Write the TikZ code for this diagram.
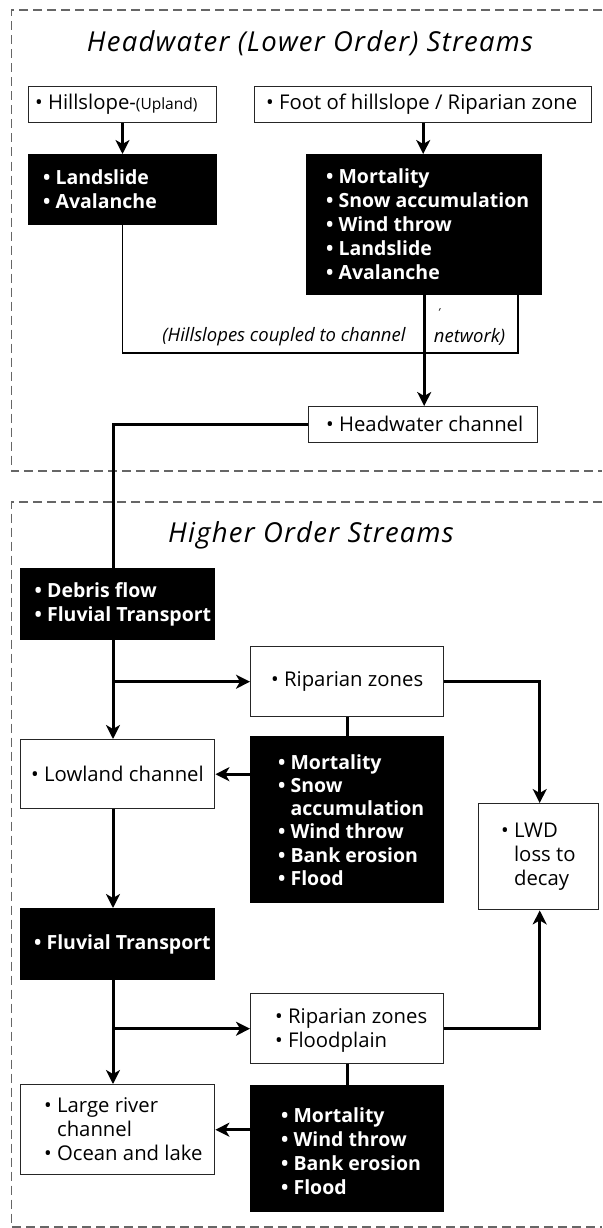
\documentclass[tikz,border=0pt]{standalone}
\usepackage{fontspec}
\setmainfont{Open Sans}
\usetikzlibrary{arrows.meta,calc}
\newcommand{\bl}{•\ }
\newcommand{\ind}{\phantom{•\ }}
\begin{document}
\begin{tikzpicture}[x=1pt,y=-1pt,
  box/.style={draw=black!85, line width=1.4pt, fill=white, inner sep=0pt, anchor=north west},
  bbox/.style={box, fill=black, draw=black},
  txt/.style={anchor=west, inner sep=0pt, align=left, font=\fontsize{20.3}{24}\selectfont},
  wtxt/.style={anchor=west, inner sep=0pt, align=left, text=white, font=\fontsize{19.5}{24}\selectfont\bfseries},
  ttl/.style={inner sep=0pt, font=\fontsize{27.5}{30}\selectfont\itshape\addfontfeatures{LetterSpace=4.5}},
  lbl/.style={inner sep=0pt, font=\fontsize{18.5}{20}\selectfont\itshape},
  con/.style={line width=3pt},
  thin/.style={line width=1.8pt},
  arr/.style={con, -{Stealth[length=14pt,width=14pt,inset=4pt]}},
  frame/.style={draw=black!60, line width=1.3pt, dash pattern=on 9pt off 5pt},
]
\useasboundingbox (0,0) rectangle (602,1228);
% dashed frames
\draw[frame] (602,10) -- (11.5,10) -- (11.5,471) -- (602,471);
\draw[frame] (602,502) -- (11.5,502) -- (11.5,1227) -- (602,1227);
% titles
\node[ttl] (t1) at (310,43) {Headwater (Lower Order) Streams};
\node[ttl] (t2) at (311,535) {Higher Order Streams};
% boxes
\node[box, minimum width=188.4pt, minimum height=36pt] (hill) at (27.6,86) {};
\node[box, minimum width=337pt, minimum height=36pt] (foot) at (254,86) {};
\node[bbox, minimum width=188.4pt, minimum height=70pt] (land) at (27.6,154) {};
\node[bbox, minimum width=235pt, minimum height=140pt] (mort) at (306,154) {};
\node[box, minimum width=229pt, minimum height=36pt] (hwc) at (308,406) {};
\node[bbox, minimum width=194pt, minimum height=71pt] (debris) at (20,568) {};
\node[box, minimum width=193pt, minimum height=70pt] (rip1) at (250,646) {};
\node[bbox, minimum width=193pt, minimum height=166pt] (blk2) at (250,736) {};
\node[box, minimum width=194pt, minimum height=69pt] (low) at (20,739) {};
\node[box, minimum width=120pt, minimum height=106pt] (lwd) at (478,803) {};
\node[bbox, minimum width=194pt, minimum height=71pt] (fluv) at (20,908) {};
\node[box, minimum width=193pt, minimum height=70pt] (rip2) at (250,993) {};
\node[bbox, minimum width=193pt, minimum height=126pt] (blk3) at (250,1085) {};
\node[box, minimum width=194pt, minimum height=90pt] (large) at (20,1084) {};
% texts
\node[txt] (hillt) at (35,104) {\bl Hillslope-{\fontsize{15.5}{16}\selectfont(Upland)}};
\node[txt] (foott) at (266,104) {\bl Foot of hillslope / Riparian zone};
\node[wtxt] (landt) at (43,189) {\bl Landslide\\\bl Avalanche};
\node[wtxt] (mortt) at (326,224) {\bl Mortality\\\bl Snow accumulation\\\bl Wind throw\\\bl Landslide\\\bl Avalanche};
\node[txt] (hwct) at (326,424) {\bl Headwater channel};
\node[wtxt] (debrist) at (34.5,604) {\bl Debris flow\\\bl Fluvial Transport};
\node[txt] (rip1t) at (271,681) {\bl Riparian zones};
\node[wtxt, font=\fontsize{19.5}{23.3}\selectfont\bfseries] (blk2t) at (278,820) {\bl Mortality\\\bl Snow\\\ind accumulation\\\bl Wind throw\\\bl Bank erosion\\\bl Flood};
\node[txt] (lowt) at (31,773.5) {\bl Lowland channel};
\node[txt] (lwdt) at (501,857) {\bl LWD\\\ind loss to\\\ind decay};
\node[wtxt] (fluvt) at (34,944) {\bl Fluvial Transport};
\node[txt] (rip2t) at (275,1030) {\bl Riparian zones\\\bl Floodplain};
\node[wtxt] (blk3t) at (281,1151) {\bl Mortality\\\bl Wind throw\\\bl Bank erosion\\\bl Flood};
\node[txt] (larget) at (44,1129) {\bl Large river\\\ind channel\\\bl Ocean and lake};
% labels
\node[lbl] (cpl1) at (284,337) {(Hillslopes coupled to channel};
\node[lbl] (cpl2) at (469.5,337) {network)};
\node[lbl, font=\fontsize{11}{12}\selectfont\itshape] (tick) at (439,313) {'};
% coordinates
\coordinate (tx) at (113,0);
\coordinate (br) at (518,353);
% connectors top
\draw[arr, line width=2.6pt] (hill.south) -- (land.north);
\draw[arr, line width=2.6pt] (foot.south) -- (foot.south |- mort.north);
\draw[thin] (land.south) |- (br) -- (br |- mort.south);
\draw[arr] (mort.south) -- (mort.south |- hwc.north);
\draw[con] (hwc.west) -| (debris.north -| tx);
% connectors bottom
\draw[arr] (debris.south -| tx) -- (low.north -| tx);
\draw[arr] (tx |- rip1.west) -- (rip1.west);
\draw[arr] (rip1.east) -| ($(lwd.north)+(1,0)$);
\draw[con] (rip1.south) -- (blk2.north);
\draw[arr] (blk2.west |- low.east) -- (low.east);
\draw[arr] (low.south -| tx) -- (fluv.north -| tx);
\draw[arr] (fluv.south -| tx) -- (large.north -| tx);
\draw[arr] (tx |- rip2.west) -- (rip2.west);
\draw[arr] (rip2.east) -| ($(lwd.south)+(1,0)$);
\draw[con] (rip2.south) -- (blk3.north);
\draw[arr] (blk3.west |- large.east) -- (large.east);
\end{tikzpicture}
\end{document}
